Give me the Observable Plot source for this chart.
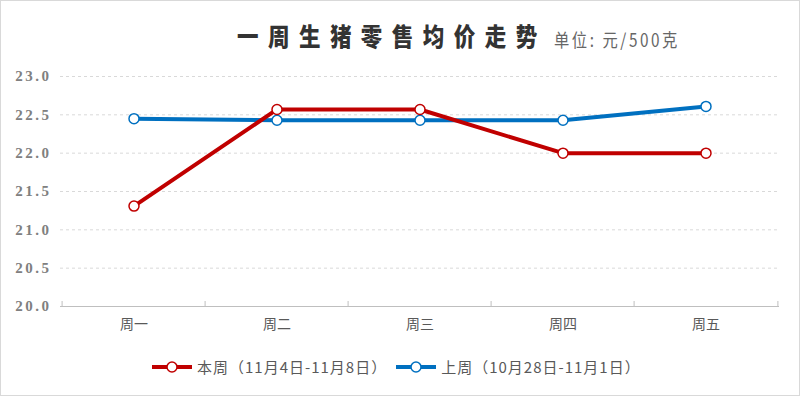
<!DOCTYPE html>
<html><head><meta charset="utf-8">
<script src="https://cdn.jsdelivr.net/npm/d3@7"></script>
<script src="https://cdn.jsdelivr.net/npm/@observablehq/plot@0.6"></script>
<style>
html,body{margin:0;padding:0;background:#fff;}
#wrap{position:relative;width:800px;height:396px;box-sizing:border-box;border:1px solid #d9d9d9;background:#fff;overflow:hidden;font-family:"Noto Sans CJK SC",sans-serif;}
#title{position:absolute;left:236px;top:16px;font-size:25px;font-weight:900;letter-spacing:11px;color:#333;white-space:nowrap;transform:scaleX(0.86);transform-origin:left center;}
#unit{position:absolute;left:553px;top:25px;font-size:18px;letter-spacing:3px;color:#666;white-space:nowrap;transform:scaleX(0.85);transform-origin:left center;}
#chart{position:absolute;left:0;top:55px;}
#chart g[aria-label="y-axis tick label"] text{letter-spacing:2.5px;}
#legend{position:absolute;left:150px;top:355px;display:flex;align-items:center;font-size:15px;color:#595959;white-space:nowrap;letter-spacing:1px;}
#legend .item{display:flex;align-items:center;margin-right:8px;}
#legend svg{margin-right:4px;}
</style></head>
<body>
<div id="wrap">
  <div id="title">一周生猪零售均价走势</div>
  <div id="unit">单位: 元/500克</div>
  <div id="chart"></div>
  <div id="legend"></div>
</div>
<script>
const days = ["周一", "周二", "周三", "周四", "周五"];
const thisWeek = [21.31, 22.57, 22.57, 22.0, 22.0];
const lastWeek = [22.45, 22.43, 22.43, 22.43, 22.61];
const seriesNames = ["本周（11月4日-11月8日）", "上周（10月28日-11月1日）"];
const seriesColors = ["#C00000", "#0070C0"];
const yTicks = [20.0, 20.5, 21.0, 21.5, 22.0, 22.5, 23.0];

const rows = [];
days.forEach((d, i) => {
  rows.push({day: d, value: thisWeek[i], series: seriesNames[0]});
  rows.push({day: d, value: lastWeek[i], series: seriesNames[1]});
});
const lastRows = rows.filter(r => r.series === seriesNames[1]);
const thisRows = rows.filter(r => r.series === seriesNames[0]);

const W = 798, H = 285, ML = 59, MR = 20;
const step = (W - ML - MR) / days.length;

const chart = Plot.plot({
  width: W, height: H,
  marginLeft: ML, marginRight: MR, marginTop: 20, marginBottom: 35,
  style: {background: "transparent", overflow: "visible"},
  x: {type: "band", domain: days, padding: 0, axis: null, label: null},
  y: {domain: [20, 23], axis: null, label: null},
  marks: [
    Plot.gridY(yTicks.filter(t => t > 20), {stroke: "#d9d9d9", strokeOpacity: 1, strokeDasharray: "3,3"}),
    Plot.ruleY([20], {stroke: "#bfbfbf", strokeWidth: 1}),
    Plot.tickX(days, {x: d => d, dx: -step / 2, insetTop: 225, stroke: "#bfbfbf"}),
    Plot.tickX([days[days.length - 1]], {x: d => d, dx: step / 2, insetTop: 225, stroke: "#bfbfbf"}),
    Plot.axisY({ticks: yTicks, tickSize: 0, tickPadding: 9, label: null, tickFormat: d => d.toFixed(1),
      fontSize: 15, fill: "#808080", fontFamily: "Liberation Serif", fontWeight: "bold"}),
    Plot.axisX({tickSize: 0, tickPadding: 13, label: null, fontSize: 14, fill: "#595959", fontFamily: "Noto Sans CJK SC"}),
    Plot.line(lastRows, {x: "day", y: "value", stroke: seriesColors[1], strokeWidth: 4}),
    Plot.line(thisRows, {x: "day", y: "value", stroke: seriesColors[0], strokeWidth: 4}),
    Plot.dot(lastRows, {x: "day", y: "value", r: 5, fill: "white", stroke: seriesColors[1], strokeWidth: 1.5}),
    Plot.dot(thisRows, {x: "day", y: "value", r: 5, fill: "white", stroke: seriesColors[0], strokeWidth: 1.5})
  ]
});
document.getElementById("chart").appendChild(chart);

const legend = document.getElementById("legend");
seriesNames.forEach((name, i) => {
  const item = document.createElement("div");
  item.className = "item";
  item.innerHTML = `<svg width="42" height="14"><line x1="1" x2="41" y1="7" y2="7" stroke="${seriesColors[i]}" stroke-width="4"/><circle cx="21" cy="7" r="5" fill="white" stroke="${seriesColors[i]}" stroke-width="1.5"/></svg><span>${name}</span>`;
  legend.appendChild(item);
});
</script>
</body></html>
